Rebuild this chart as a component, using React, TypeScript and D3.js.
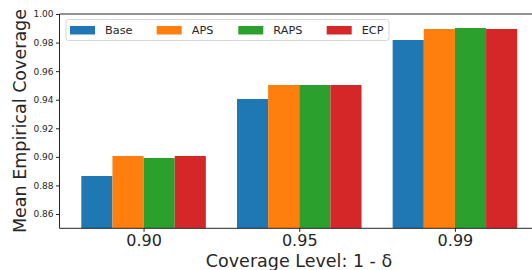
import React, { useRef, useEffect } from 'react'
import * as d3 from 'd3'

const levels = ['0.90', '0.95', '0.99']
const methods = ['Base', 'APS', 'RAPS', 'ECP']
const colors = ['#1f77b4', '#ff7f0e', '#2ca02c', '#d62728']
const base = [0.8866, 0.9405, 0.9818]
const aps = [0.9006, 0.9503, 0.9895]
const raps = [0.8992, 0.9503, 0.9902]
const ecp = [0.9006, 0.9503, 0.9895]
const yTicks = [0.86, 0.88, 0.90, 0.92, 0.94, 0.96, 0.98, 1.0]

const App = () => {
    const ref = useRef<SVGSVGElement>(null)
    useEffect(() => {
        const w = 532
        const h = 270
        const left = 59.5
        const top = 14
        const bottom = 228.3
        const series = [base, aps, raps, ecp]
        const font = 'DejaVu Sans, sans-serif'

        const svg = d3.select(ref.current)
            .attr('width', w)
            .attr('height', h)
            .style('background', 'white')
        svg.selectAll('*').remove()

        // group index -> px, matplotlib style xlim (-0.54, 2.54)
        const xScale = d3.scaleLinear()
            .domain([-0.54, 2.54])
            .range([left, 539])
        const yScale = d3.scaleLinear()
            .domain([0.85, 1.0])
            .range([bottom, top])
        const barW = 0.2

        // bars
        series.forEach((vals, s) => {
            svg.append('g')
                .selectAll('rect')
                .data(vals)
                .join('rect')
                .attr('x', (d, i) => xScale(i - 0.4 + s * barW))
                .attr('width', xScale(barW) - xScale(0))
                .attr('y', d => yScale(d))
                .attr('height', d => bottom - yScale(d))
                .attr('fill', colors[s])
        })

        // spines
        const spine = svg.append('g')
            .attr('stroke', '#262626')
            .attr('stroke-width', 1)
        spine.append('line').attr('x1', left).attr('x2', left).attr('y1', top).attr('y2', bottom)
        spine.append('line').attr('x1', left).attr('x2', 539).attr('y1', bottom).attr('y2', bottom)
        spine.append('line').attr('x1', left).attr('x2', 539).attr('y1', top).attr('y2', top)

        // y axis
        const yAxis = d3.axisLeft(yScale)
            .tickValues(yTicks)
            .tickFormat(d3.format('.2f'))
            .tickSize(3.5)
            .tickPadding(2.5)
        const gy = svg.append('g')
            .attr('transform', `translate(${left}, 0)`)
            .call(yAxis)
        gy.select('.domain').remove()
        gy.selectAll('line').attr('stroke', '#262626')
        gy.selectAll('text')
            .style('font-family', font)
            .style('font-size', '9px')
            .attr('fill', '#262626')

        // x axis
        const xAxis = d3.axisBottom(xScale)
            .tickValues([0, 1, 2])
            .tickFormat(i => levels[i as number])
            .tickSize(3.5)
            .tickPadding(3)
        const gx = svg.append('g')
            .attr('transform', `translate(0, ${bottom})`)
            .call(xAxis)
        gx.select('.domain').remove()
        gx.selectAll('line').attr('stroke', '#262626')
        gx.selectAll('text')
            .style('font-family', font)
            .style('font-size', '16px')
            .attr('fill', '#262626')

        // axis labels
        svg.append('text')
            .attr('x', 299)
            .attr('y', 267)
            .attr('text-anchor', 'middle')
            .style('font-family', font)
            .style('font-size', '17.5px')
            .attr('fill', '#262626')
            .text('Coverage Level: 1 - δ')
        svg.append('text')
            .attr('transform', `translate(26, 121) rotate(-90)`)
            .attr('text-anchor', 'middle')
            .style('font-family', font)
            .style('font-size', '17.5px')
            .attr('fill', '#262626')
            .text('Mean Empirical Coverage')

        // legend
        const lg = svg.append('g').attr('transform', 'translate(66, 19.5)')
        lg.append('rect')
            .attr('width', 323)
            .attr('height', 21)
            .attr('rx', 2.5)
            .attr('fill', 'white')
            .attr('fill-opacity', 0.8)
            .attr('stroke', '#d6d6d6')
        const itemX = [4, 90.7, 172.3, 260.7]
        methods.forEach((m, i) => {
            lg.append('rect')
                .attr('x', itemX[i])
                .attr('y', 6.5)
                .attr('width', 25)
                .attr('height', 8.5)
                .attr('fill', colors[i])
            lg.append('text')
                .attr('x', itemX[i] + 35)
                .attr('y', 14.8)
                .style('font-family', font)
                .style('font-size', '11.3px')
                .attr('fill', '#262626')
                .text(m)
        })
    }, [])
    return (
        <svg ref={ref} style={{ position: 'absolute', left: 0, top: 0 }}></svg>
    )
}

export default App
